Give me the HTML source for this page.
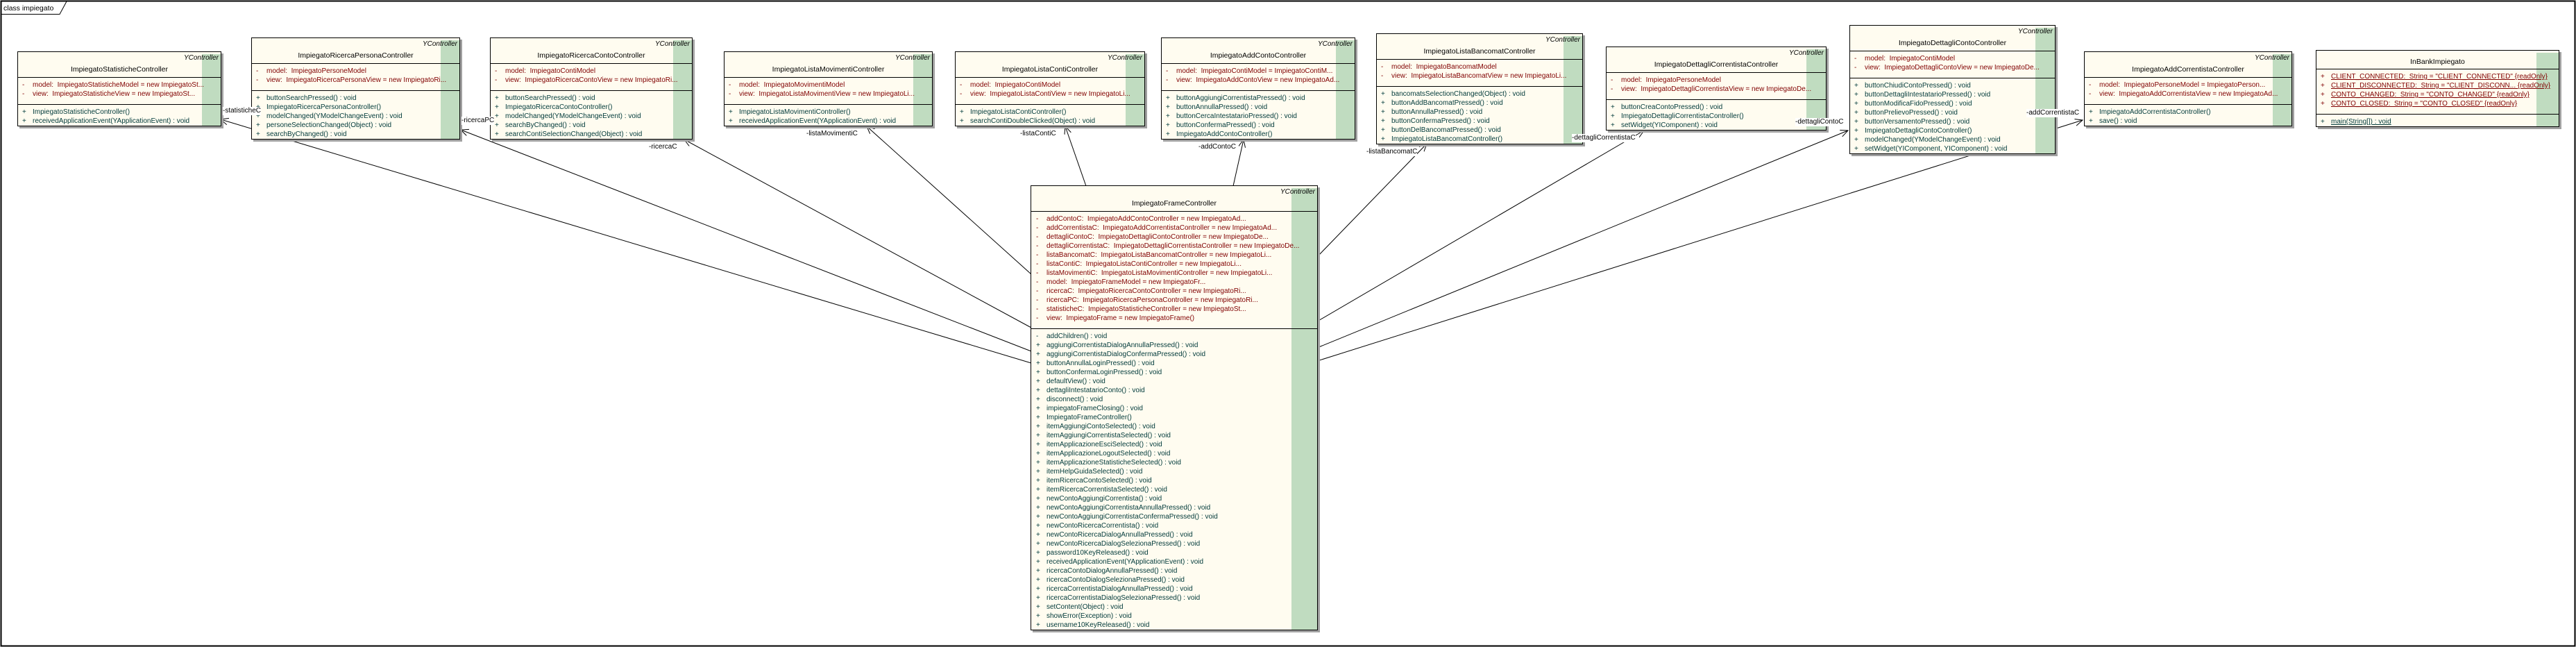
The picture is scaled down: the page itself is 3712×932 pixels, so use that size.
<!DOCTYPE html>
<html><head><meta charset="utf-8">
<style>
*{margin:0;padding:0}
html,body{width:3712px;height:932px;background:#fff;overflow:hidden;position:relative;font-family:"Liberation Sans",sans-serif}
.b{position:absolute;background:#fffcf0;border:1px solid #000;box-shadow:3px 3px 0 #a0a0a0;box-sizing:border-box;font-size:10px;overflow:hidden;z-index:2}
.g{position:absolute;top:3px;right:0;bottom:0;width:27px;background:#c0dcc0}
.hd{position:relative;height:36px;border-bottom:1px solid #000}
.st{position:absolute;right:3px;top:3px;font-style:italic;color:#000}
.nm{position:absolute;left:0;right:0;top:19px;text-align:center;font-size:10.5px;color:#000}
.c{position:relative;padding:4px 0 8px;border-bottom:1px solid #000}
.c.l{border-bottom:none;padding-bottom:0}
.r{height:13px;line-height:13px;white-space:nowrap;position:relative;padding-left:21px}
.r i{position:absolute;left:6px;font-style:normal}
.a{color:#800000}.m{color:#003a3a}
.u span{text-decoration:underline}
.lb{position:absolute;font-size:10px;background:#fff;white-space:nowrap;z-index:3;line-height:12px;color:#000}
svg{position:absolute;left:0;top:0;z-index:1}
</style></head><body>
<svg width="3712" height="932" viewBox="0 0 3712 932">
<defs><marker id="ar" markerUnits="userSpaceOnUse" markerWidth="14" markerHeight="12" refX="11" refY="5" orient="auto"><path d="M0,0 L11,5 L0,10" fill="none" stroke="#000" stroke-width="1"/></marker></defs>
<rect x="1.5" y="1.5" width="3709" height="929" fill="none" stroke="#000" stroke-width="2"/>
<path d="M1.5,20.5 H86 L96,2" fill="none" stroke="#000" stroke-width="1"/>
<text x="5" y="15" font-family="Liberation Sans" font-size="10.5">class impiegato</text>
<g stroke="#000" stroke-width="1" fill="none" marker-end="url(#ar)">
<line x1="1486" y1="523" x2="318" y2="172"/>
<line x1="1486" y1="506" x2="664" y2="187"/>
<line x1="1486" y1="472" x2="986" y2="201"/>
<line x1="1486" y1="395" x2="1249" y2="182"/>
<line x1="1565" y1="268" x2="1535" y2="182"/>
<line x1="1777" y1="268" x2="1792" y2="201"/>
<line x1="1898" y1="370" x2="2056" y2="207"/>
<line x1="1898" y1="463" x2="2369" y2="188"/>
<line x1="1898" y1="501" x2="2663" y2="188"/>
<line x1="1898" y1="520" x2="3001" y2="173"/>
</g>
</svg>

<div class="lb" style="left:321px;top:154px">-statisticheC</div>
<div class="lb" style="left:665px;top:168px">-ricercaPC</div>
<div class="lb" style="left:935px;top:206px">-ricercaC</div>
<div class="lb" style="left:1162px;top:187px">-listaMovimentiC</div>
<div class="lb" style="left:1470px;top:187px">-listaContiC</div>
<div class="lb" style="left:1727px;top:206px">-addContoC</div>
<div class="lb" style="left:1969px;top:213px">-listaBancomatC</div>
<div class="lb" style="left:2265px;top:193px">-dettagliCorrentistaC</div>
<div class="lb" style="left:2587px;top:170px">-dettagliContoC</div>
<div class="lb" style="left:2920px;top:157px">-addCorrentistaC</div>

<!-- Statistiche -->
<div class="b" style="left:25px;top:74px;width:294px">
<div class="g"></div>
<div class="hd"><div class="st">YController</div><div class="nm">ImpiegatoStatisticheController</div></div>
<div class="c a"><div class="r"><i>-</i>model:&nbsp; ImpiegatoStatisticheModel = new ImpiegatoSt...</div><div class="r"><i>-</i>view:&nbsp; ImpiegatoStatisticheView = new ImpiegatoSt...</div></div>
<div class="c l m"><div class="r"><i>+</i>ImpiegatoStatisticheController()</div><div class="r"><i>+</i>receivedApplicationEvent(YApplicationEvent) : void</div></div>
</div>

<!-- RicercaPersona -->
<div class="b" style="left:362px;top:54px;width:301px">
<div class="g"></div>
<div class="hd"><div class="st">YController</div><div class="nm">ImpiegatoRicercaPersonaController</div></div>
<div class="c a"><div class="r"><i>-</i>model:&nbsp; ImpiegatoPersoneModel</div><div class="r"><i>-</i>view:&nbsp; ImpiegatoRicercaPersonaView = new ImpiegatoRi...</div></div>
<div class="c l m"><div class="r"><i>+</i>buttonSearchPressed() : void</div><div class="r"><i>+</i>ImpiegatoRicercaPersonaController()</div><div class="r"><i>+</i>modelChanged(YModelChangeEvent) : void</div><div class="r"><i>+</i>personeSelectionChanged(Object) : void</div><div class="r"><i>+</i>searchByChanged() : void</div></div>
</div>

<!-- RicercaConto -->
<div class="b" style="left:706px;top:54px;width:292px">
<div class="g"></div>
<div class="hd"><div class="st">YController</div><div class="nm">ImpiegatoRicercaContoController</div></div>
<div class="c a"><div class="r"><i>-</i>model:&nbsp; ImpiegatoContiModel</div><div class="r"><i>-</i>view:&nbsp; ImpiegatoRicercaContoView = new ImpiegatoRi...</div></div>
<div class="c l m"><div class="r"><i>+</i>buttonSearchPressed() : void</div><div class="r"><i>+</i>ImpiegatoRicercaContoController()</div><div class="r"><i>+</i>modelChanged(YModelChangeEvent) : void</div><div class="r"><i>+</i>searchByChanged() : void</div><div class="r"><i>+</i>searchContiSelectionChanged(Object) : void</div></div>
</div>

<!-- ListaMovimenti -->
<div class="b" style="left:1043px;top:74px;width:301px">
<div class="g"></div>
<div class="hd"><div class="st">YController</div><div class="nm">ImpiegatoListaMovimentiController</div></div>
<div class="c a"><div class="r"><i>-</i>model:&nbsp; ImpiegatoMovimentiModel</div><div class="r"><i>-</i>view:&nbsp; ImpiegatoListaMovimentiView = new ImpiegatoLi...</div></div>
<div class="c l m"><div class="r"><i>+</i>ImpiegatoListaMovimentiController()</div><div class="r"><i>+</i>receivedApplicationEvent(YApplicationEvent) : void</div></div>
</div>

<!-- ListaConti -->
<div class="b" style="left:1376px;top:74px;width:274px">
<div class="g"></div>
<div class="hd"><div class="st">YController</div><div class="nm">ImpiegatoListaContiController</div></div>
<div class="c a"><div class="r"><i>-</i>model:&nbsp; ImpiegatoContiModel</div><div class="r"><i>-</i>view:&nbsp; ImpiegatoListaContiView = new ImpiegatoLi...</div></div>
<div class="c l m"><div class="r"><i>+</i>ImpiegatoListaContiController()</div><div class="r"><i>+</i>searchContiDoubleClicked(Object) : void</div></div>
</div>

<!-- AddConto -->
<div class="b" style="left:1673px;top:54px;width:280px">
<div class="g"></div>
<div class="hd"><div class="st">YController</div><div class="nm">ImpiegatoAddContoController</div></div>
<div class="c a"><div class="r"><i>-</i>model:&nbsp; ImpiegatoContiModel = ImpiegatoContiM...</div><div class="r"><i>-</i>view:&nbsp; ImpiegatoAddContoView = new ImpiegatoAd...</div></div>
<div class="c l m"><div class="r"><i>+</i>buttonAggiungiCorrentistaPressed() : void</div><div class="r"><i>+</i>buttonAnnullaPressed() : void</div><div class="r"><i>+</i>buttonCercaIntestatarioPressed() : void</div><div class="r"><i>+</i>buttonConfermaPressed() : void</div><div class="r"><i>+</i>ImpiegatoAddContoController()</div></div>
</div>

<!-- ListaBancomat -->
<div class="b" style="left:1983px;top:48px;width:298px">
<div class="g"></div>
<div class="hd"><div class="st">YController</div><div class="nm">ImpiegatoListaBancomatController</div></div>
<div class="c a"><div class="r"><i>-</i>model:&nbsp; ImpiegatoBancomatModel</div><div class="r"><i>-</i>view:&nbsp; ImpiegatoListaBancomatView = new ImpiegatoLi...</div></div>
<div class="c l m"><div class="r"><i>+</i>bancomatsSelectionChanged(Object) : void</div><div class="r"><i>+</i>buttonAddBancomatPressed() : void</div><div class="r"><i>+</i>buttonAnnullaPressed() : void</div><div class="r"><i>+</i>buttonConfermaPressed() : void</div><div class="r"><i>+</i>buttonDelBancomatPressed() : void</div><div class="r"><i>+</i>ImpiegatoListaBancomatController()</div></div>
</div>

<!-- DettagliCorrentista -->
<div class="b" style="left:2314px;top:67px;width:318px">
<div class="g" style="width:28px"></div>
<div class="hd"><div class="st">YController</div><div class="nm">ImpiegatoDettagliCorrentistaController</div></div>
<div class="c a"><div class="r"><i>-</i>model:&nbsp; ImpiegatoPersoneModel</div><div class="r"><i>-</i>view:&nbsp; ImpiegatoDettagliCorrentistaView = new ImpiegatoDe...</div></div>
<div class="c l m"><div class="r"><i>+</i>buttonCreaContoPressed() : void</div><div class="r"><i>+</i>ImpiegatoDettagliCorrentistaController()</div><div class="r"><i>+</i>setWidget(YIComponent) : void</div></div>
</div>

<!-- DettagliConto -->
<div class="b" style="left:2665px;top:36px;width:297px">
<div class="g" style="width:28px"></div>
<div class="hd"><div class="st">YController</div><div class="nm">ImpiegatoDettagliContoController</div></div>
<div class="c a"><div class="r"><i>-</i>model:&nbsp; ImpiegatoContiModel</div><div class="r"><i>-</i>view:&nbsp; ImpiegatoDettagliContoView = new ImpiegatoDe...</div></div>
<div class="c l m"><div class="r"><i>+</i>buttonChiudiContoPressed() : void</div><div class="r"><i>+</i>buttonDettagliIntestatarioPressed() : void</div><div class="r"><i>+</i>buttonModificaFidoPressed() : void</div><div class="r"><i>+</i>buttonPrelievoPressed() : void</div><div class="r"><i>+</i>buttonVersamentoPressed() : void</div><div class="r"><i>+</i>ImpiegatoDettagliContoController()</div><div class="r"><i>+</i>modelChanged(YModelChangeEvent) : void</div><div class="r"><i>+</i>setWidget(YIComponent, YIComponent) : void</div></div>
</div>

<!-- AddCorrentista -->
<div class="b" style="left:3003px;top:74px;width:300px">
<div class="g"></div>
<div class="hd"><div class="st">YController</div><div class="nm">ImpiegatoAddCorrentistaController</div></div>
<div class="c a"><div class="r"><i>-</i>model:&nbsp; ImpiegatoPersoneModel = ImpiegatoPerson...</div><div class="r"><i>-</i>view:&nbsp; ImpiegatoAddCorrentistaView = new ImpiegatoAd...</div></div>
<div class="c l m"><div class="r"><i>+</i>ImpiegatoAddCorrentistaController()</div><div class="r"><i>+</i>save() : void</div></div>
</div>

<!-- InBankImpiegato -->
<div class="b" style="left:3337px;top:72px;width:351px">
<div class="g" style="width:32px"></div>
<div class="hd" style="height:26px"><div class="nm" style="top:10px">InBankImpiegato</div></div>
<div class="c a u"><div class="r"><i>+</i><span>CLIENT_CONNECTED:&nbsp; String = "CLIENT_CONNECTED" {readOnly}</span></div><div class="r"><i>+</i><span>CLIENT_DISCONNECTED:&nbsp; String = "CLIENT_DISCONN... {readOnly}</span></div><div class="r"><i>+</i><span>CONTO_CHANGED:&nbsp; String = "CONTO_CHANGED" {readOnly}</span></div><div class="r"><i>+</i><span>CONTO_CLOSED:&nbsp; String = "CONTO_CLOSED" {readOnly}</span></div></div>
<div class="c l m u"><div class="r"><i>+</i><span>main(String[]) : void</span></div></div>
</div>

<!-- Frame controller -->
<div class="b" style="left:1485px;top:267px;width:414px">
<div class="g" style="width:37px"></div>
<div class="hd"><div class="st">YController</div><div class="nm">ImpiegatoFrameController</div></div>
<div class="c a">
<div class="r" style="padding-left:22px"><i style="left:7px">-</i>addContoC:&nbsp; ImpiegatoAddContoController = new ImpiegatoAd...</div>
<div class="r" style="padding-left:22px"><i style="left:7px">-</i>addCorrentistaC:&nbsp; ImpiegatoAddCorrentistaController = new ImpiegatoAd...</div>
<div class="r" style="padding-left:22px"><i style="left:7px">-</i>dettagliContoC:&nbsp; ImpiegatoDettagliContoController = new ImpiegatoDe...</div>
<div class="r" style="padding-left:22px"><i style="left:7px">-</i>dettagliCorrentistaC:&nbsp; ImpiegatoDettagliCorrentistaController = new ImpiegatoDe...</div>
<div class="r" style="padding-left:22px"><i style="left:7px">-</i>listaBancomatC:&nbsp; ImpiegatoListaBancomatController = new ImpiegatoLi...</div>
<div class="r" style="padding-left:22px"><i style="left:7px">-</i>listaContiC:&nbsp; ImpiegatoListaContiController = new ImpiegatoLi...</div>
<div class="r" style="padding-left:22px"><i style="left:7px">-</i>listaMovimentiC:&nbsp; ImpiegatoListaMovimentiController = new ImpiegatoLi...</div>
<div class="r" style="padding-left:22px"><i style="left:7px">-</i>model:&nbsp; ImpiegatoFrameModel = new ImpiegatoFr...</div>
<div class="r" style="padding-left:22px"><i style="left:7px">-</i>ricercaC:&nbsp; ImpiegatoRicercaContoController = new ImpiegatoRi...</div>
<div class="r" style="padding-left:22px"><i style="left:7px">-</i>ricercaPC:&nbsp; ImpiegatoRicercaPersonaController = new ImpiegatoRi...</div>
<div class="r" style="padding-left:22px"><i style="left:7px">-</i>statisticheC:&nbsp; ImpiegatoStatisticheController = new ImpiegatoSt...</div>
<div class="r" style="padding-left:22px"><i style="left:7px">-</i>view:&nbsp; ImpiegatoFrame = new ImpiegatoFrame()</div>
</div>
<div class="c l m">
<div class="r" style="padding-left:22px"><i style="left:7px">-</i>addChildren() : void</div>
<div class="r" style="padding-left:22px"><i style="left:7px">+</i>aggiungiCorrentistaDialogAnnullaPressed() : void</div>
<div class="r" style="padding-left:22px"><i style="left:7px">+</i>aggiungiCorrentistaDialogConfermaPressed() : void</div>
<div class="r" style="padding-left:22px"><i style="left:7px">+</i>buttonAnnullaLoginPressed() : void</div>
<div class="r" style="padding-left:22px"><i style="left:7px">+</i>buttonConfermaLoginPressed() : void</div>
<div class="r" style="padding-left:22px"><i style="left:7px">+</i>defaultView() : void</div>
<div class="r" style="padding-left:22px"><i style="left:7px">+</i>dettagliIntestatarioConto() : void</div>
<div class="r" style="padding-left:22px"><i style="left:7px">+</i>disconnect() : void</div>
<div class="r" style="padding-left:22px"><i style="left:7px">+</i>impiegatoFrameClosing() : void</div>
<div class="r" style="padding-left:22px"><i style="left:7px">+</i>ImpiegatoFrameController()</div>
<div class="r" style="padding-left:22px"><i style="left:7px">+</i>itemAggiungiContoSelected() : void</div>
<div class="r" style="padding-left:22px"><i style="left:7px">+</i>itemAggiungiCorrentistaSelected() : void</div>
<div class="r" style="padding-left:22px"><i style="left:7px">+</i>itemApplicazioneEsciSelected() : void</div>
<div class="r" style="padding-left:22px"><i style="left:7px">+</i>itemApplicazioneLogoutSelected() : void</div>
<div class="r" style="padding-left:22px"><i style="left:7px">+</i>itemApplicazioneStatisticheSelected() : void</div>
<div class="r" style="padding-left:22px"><i style="left:7px">+</i>itemHelpGuidaSelected() : void</div>
<div class="r" style="padding-left:22px"><i style="left:7px">+</i>itemRicercaContoSelected() : void</div>
<div class="r" style="padding-left:22px"><i style="left:7px">+</i>itemRicercaCorrentistaSelected() : void</div>
<div class="r" style="padding-left:22px"><i style="left:7px">+</i>newContoAggiungiCorrentista() : void</div>
<div class="r" style="padding-left:22px"><i style="left:7px">+</i>newContoAggiungiCorrentistaAnnullaPressed() : void</div>
<div class="r" style="padding-left:22px"><i style="left:7px">+</i>newContoAggiungiCorrentistaConfermaPressed() : void</div>
<div class="r" style="padding-left:22px"><i style="left:7px">+</i>newContoRicercaCorrentista() : void</div>
<div class="r" style="padding-left:22px"><i style="left:7px">+</i>newContoRicercaDialogAnnullaPressed() : void</div>
<div class="r" style="padding-left:22px"><i style="left:7px">+</i>newContoRicercaDialogSelezionaPressed() : void</div>
<div class="r" style="padding-left:22px"><i style="left:7px">+</i>password10KeyReleased() : void</div>
<div class="r" style="padding-left:22px"><i style="left:7px">+</i>receivedApplicationEvent(YApplicationEvent) : void</div>
<div class="r" style="padding-left:22px"><i style="left:7px">+</i>ricercaContoDialogAnnullaPressed() : void</div>
<div class="r" style="padding-left:22px"><i style="left:7px">+</i>ricercaContoDialogSelezionaPressed() : void</div>
<div class="r" style="padding-left:22px"><i style="left:7px">+</i>ricercaCorrentistaDialogAnnullaPressed() : void</div>
<div class="r" style="padding-left:22px"><i style="left:7px">+</i>ricercaCorrentistaDialogSelezionaPressed() : void</div>
<div class="r" style="padding-left:22px"><i style="left:7px">+</i>setContent(Object) : void</div>
<div class="r" style="padding-left:22px"><i style="left:7px">+</i>showError(Exception) : void</div>
<div class="r" style="padding-left:22px"><i style="left:7px">+</i>username10KeyReleased() : void</div>
</div>
</div>
</body></html>
